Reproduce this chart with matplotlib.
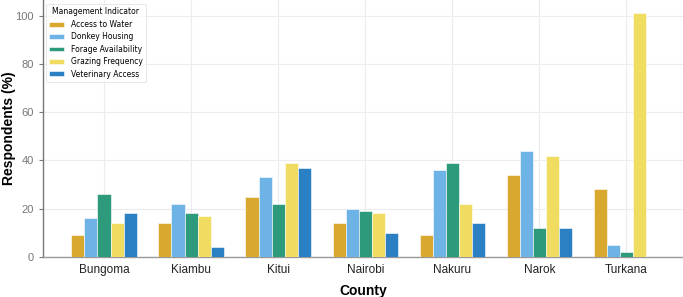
import matplotlib
matplotlib.use("Agg")
import matplotlib.pyplot as plt
import numpy as np

counties = ["Bungoma", "Kiambu", "Kitui", "Nairobi", "Nakuru", "Narok", "Turkana"]
indicators = ["Access to Water", "Donkey Housing", "Forage Availability",
              "Grazing Frequency", "Veterinary Access"]
access_to_water = [9, 14, 25, 14, 9, 34, 28]
donkey_housing = [16, 22, 33, 20, 36, 44, 5]
forage_availability = [26, 18, 22, 19, 39, 12, 2]
grazing_frequency = [14, 17, 39, 18, 22, 42, 101]
veterinary_access = [18, 4, 37, 10, 14, 12, 0]
series = [access_to_water, donkey_housing, forage_availability,
          grazing_frequency, veterinary_access]
colors = ["#D9A82E", "#6DB3E6", "#2E9A7C", "#F0DC60", "#2A80C2"]

plt.rcParams['font.family'] = ['Liberation Sans', 'DejaVu Sans']

fig = plt.figure(figsize=(6.83, 2.97), dpi=100)
ax = fig.add_axes([0.063, 0.135, 0.937, 0.865])

x = np.arange(len(counties))
w = 0.15
for i, (vals, c, lab) in enumerate(zip(series, colors, indicators)):
    ax.bar(x + (i - 2) * w, vals, width=w, color=c, label=lab,
           edgecolor="white", linewidth=0.4, zorder=3)

ax.set_xlim(-0.7, 6.65)
ax.set_ylim(0, 106.5)
ax.set_xticks(x)
ax.set_xticklabels(counties)
ax.set_yticks([0, 20, 40, 60, 80, 100])
ax.grid(True, color="#EBEBF0", linewidth=0.8, zorder=0)
ax.set_axisbelow(True)
for s in ["top", "right"]:
    ax.spines[s].set_visible(False)
ax.spines["left"].set_color("#777777")
ax.spines["bottom"].set_color("#999999")
ax.spines["left"].set_linewidth(1.0)
ax.spines["bottom"].set_linewidth(1.0)
ax.tick_params(axis="y", colors="#777777", labelsize=8, length=3, width=0.8)
ax.tick_params(axis="x", colors="#999999", labelcolor="#222222", labelsize=8.5, length=0, pad=5)
ax.set_xlabel("County", fontsize=10, fontweight="bold", labelpad=6)
ax.set_ylabel("Respondents (%)", fontsize=10, fontweight="bold")
ax.yaxis.set_label_coords(-0.043, 0.5)

leg = ax.legend(title="Management Indicator", loc="upper left",
                frameon=True, borderpad=0.45, labelspacing=0.45,
                handlelength=1.9, handleheight=0.6, handletextpad=0.9,
                borderaxespad=0.35,
                prop={'family': 'DejaVu Sans', 'size': 5.5},
                title_fontproperties={'family': 'DejaVu Sans', 'size': 5.5},
                bbox_to_anchor=(0.0, 0.995))
leg.get_frame().set_edgecolor("#DDDDDD")
leg.get_frame().set_linewidth(0.6)

fig.savefig("out.png", dpi=100)
